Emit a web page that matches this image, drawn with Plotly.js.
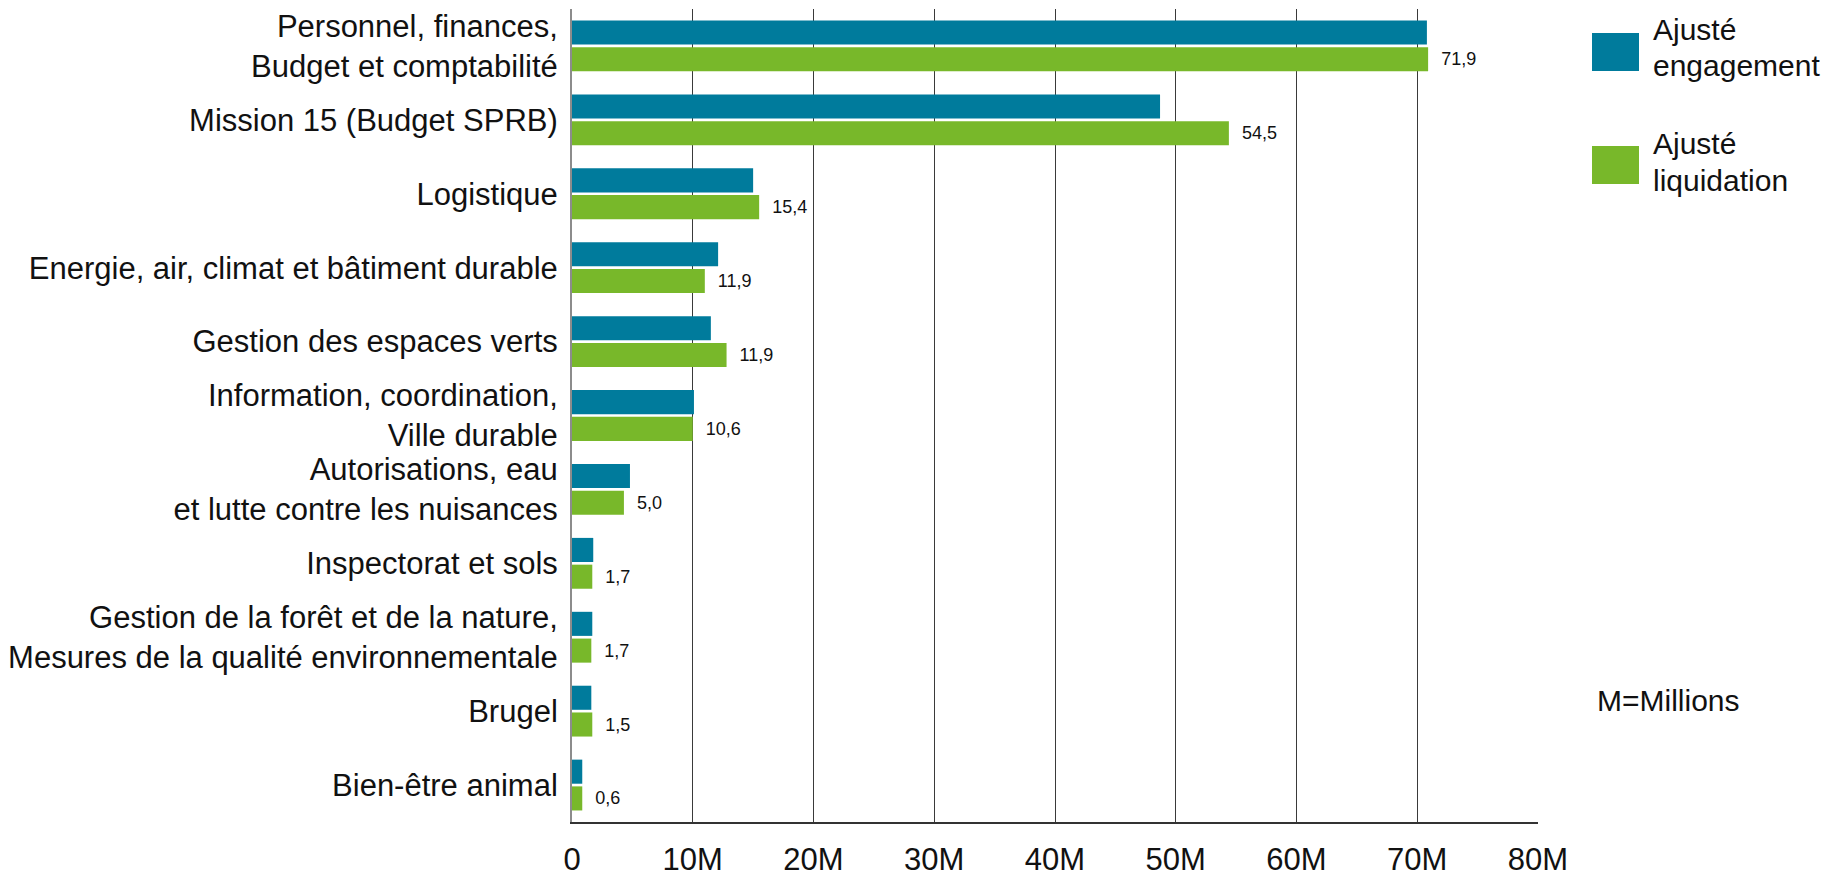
<!DOCTYPE html>
<html>
<head>
<meta charset="utf-8">
<script src="https://cdn.plot.ly/plotly-3.0.1.min.js"></script>
<style>html,body{margin:0;padding:0;background:#fff;}#chart{width:1840px;height:877px;}</style>
</head>
<body>
<div id="chart"></div>
<script>
// ---- data ----
const categories = [
  'Personnel, finances,<br>Budget et comptabilité',
  'Mission 15 (Budget SPRB)',
  'Logistique',
  'Energie, air, climat et bâtiment durable',
  'Gestion des espaces verts',
  'Information, coordination,<br>Ville durable',
  'Autorisations, eau<br>et lutte contre les nuisances',
  'Inspectorat et sols',
  'Gestion de la forêt et de la nature,<br>Mesures de la qualité environnementale',
  'Brugel',
  'Bien-être animal'
];
const engagement = [70.8, 48.7, 15.0, 12.1, 11.5, 10.1, 4.8, 1.76, 1.68, 1.6, 0.85];
const liquidation = [70.9, 54.4, 15.5, 11.0, 12.8, 10.0, 4.3, 1.68, 1.6, 1.68, 0.85];
const liquidationLabels = ['71,9', '54,5', '15,4', '11,9', '11,9', '10,6', '5,0', '1,7', '1,7', '1,5', '0,6'];
const seriesNames = ['Ajusté<br>engagement', 'Ajusté<br>liquidation'];
const xTickVals = [0, 10, 20, 30, 40, 50, 60, 70, 80];
const xTickText = ['0', '10M', '20M', '30M', '40M', '50M', '60M', '70M', '80M'];
const unitNote = 'M=Millions';

// ---- styles ----
const TEAL = '#007B9C';
const GREEN = '#78B82A';
const FONT = '"Liberation Sans", Arial, Helvetica, sans-serif';
const TXT = '#111111';

const W = 1840, H = 877;
const M = {l: 572, r: 302, t: 9, b: 55};
const PW = W - M.l - M.r, PH = H - M.t - M.b;
const px = x => (x - M.l) / PW;
const py = y => 1 - (y - M.t) / PH;

const traces = [
  {
    type: 'bar', orientation: 'h', name: seriesNames[0],
    y: categories, x: engagement,
    marker: {color: TEAL}, hoverinfo: 'x+y'
  },
  {
    type: 'bar', orientation: 'h', name: seriesNames[1],
    y: categories, x: liquidation,
    marker: {color: GREEN},
    text: liquidationLabels.map(s => '\u00a0\u00a0' + s),
    textposition: 'outside', constraintext: 'none', cliponaxis: false,
    textfont: {family: FONT, size: 18, color: TXT},
    hoverinfo: 'x+y'
  }
];

const legendBoxes = [[33, 71], [146, 184]];
const legendColors = [TEAL, GREEN];
const legendLineY = [[30, 66], [143, 180]];

const shapes = legendBoxes.map((b, i) => ({
  type: 'rect', xref: 'paper', yref: 'paper',
  x0: px(1592), x1: px(1639), y0: py(b[1]), y1: py(b[0]),
  fillcolor: legendColors[i], line: {width: 0}
}));

const annotations = [];
seriesNames.forEach((n, i) => {
  n.split('<br>').forEach((line, j) => {
    annotations.push({
      xref: 'paper', yref: 'paper', x: px(1651), y: py(legendLineY[i][j]),
      xanchor: 'left', yanchor: 'middle', align: 'left', showarrow: false,
      text: line, font: {family: FONT, size: 30, color: TXT}
    });
  });
});
annotations.push({
  xref: 'paper', yref: 'paper', x: px(1595), y: py(700),
  xanchor: 'left', yanchor: 'middle', align: 'left', showarrow: false,
  text: unitNote, font: {family: FONT, size: 30, color: TXT}
});

const layout = {
  width: W, height: H,
  margin: M,
  paper_bgcolor: '#ffffff', plot_bgcolor: '#ffffff',
  font: {family: FONT, size: 30, color: TXT},
  barmode: 'group', bargap: 0.276, bargroupgap: 0.1,
  showlegend: false,
  xaxis: {
    range: [0, 80], tickvals: xTickVals, ticktext: xTickText,
    showgrid: true, gridcolor: '#3a3a3a', gridwidth: 1,
    zeroline: false, showline: true, linecolor: '#333333', linewidth: 1.5,
    ticks: '', ticklabelstandoff: 9,
    tickfont: {family: FONT, size: 31, color: TXT}, fixedrange: true
  },
  yaxis: {
    type: 'category', autorange: 'reversed',
    showgrid: false, zeroline: false,
    showline: true, linecolor: '#8c8c8c', linewidth: 2,
    ticks: '', ticklabelstandoff: 6,
    tickfont: {family: FONT, size: 31, color: TXT}, fixedrange: true
  },
  shapes: shapes,
  annotations: annotations
};

Plotly.newPlot('chart', traces, layout, {displayModeBar: false, staticPlot: true});
</script>
</body>
</html>
